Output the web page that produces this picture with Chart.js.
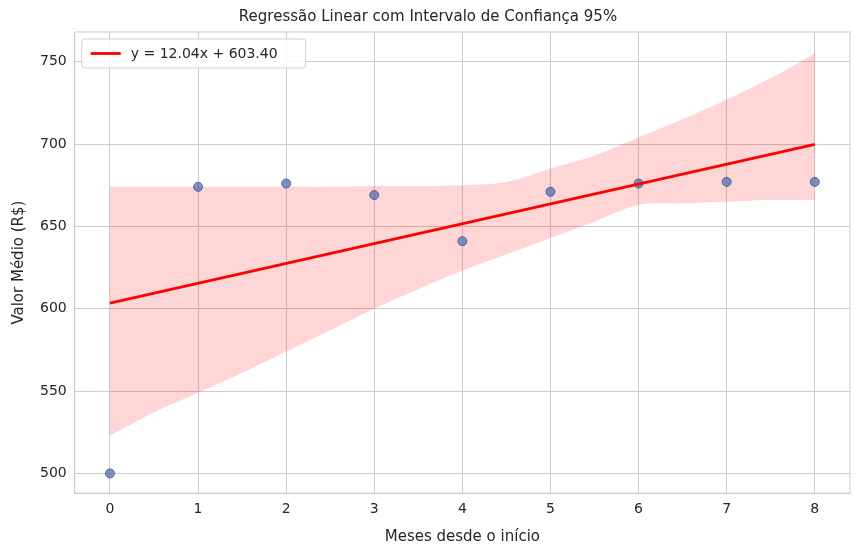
<!DOCTYPE html>
<html lang="pt">
<head>
<meta charset="UTF-8">
<title>Regressão Linear</title>
<script src="https://cdn.jsdelivr.net/npm/chart.js"></script>
<style>
  body { margin: 0; background: #fff; }
  #wrap { width: 860px; height: 556px; }
</style>
</head>
<body>
<div id="wrap"><canvas id="chart"></canvas></div>
<script>
// dados observados
var meses = [0, 1, 2, 3, 4, 5, 6, 7, 8];
var valores = [500, 674, 676, 669, 641, 671, 676, 677, 677];

// regressão
var slope = 12.04;
var intercept = 603.40;

// intervalo de confiança 95%
var ciX = [0, 0.5, 1, 1.5, 2, 2.5, 3, 3.5, 4, 4.5, 5, 5.5, 6, 6.5, 7, 7.5, 8];
var ciUpper = [674, 674, 674, 674, 674, 674, 674.5, 674.5, 675, 677, 685, 693, 704, 715, 727, 740, 755];
var ciLower = [523, 537, 549, 561, 574, 587, 600, 612, 623, 633, 643, 653, 663, 664, 665, 666, 666];

var xTicks = [0, 1, 2, 3, 4, 5, 6, 7, 8];
var yTicks = [500, 550, 600, 650, 700, 750];

var fontFam = "'DejaVu Sans', sans-serif";

function pts(xs, ys) {
    return xs.map(function (x, i) { return { x: x, y: ys[i] }; });
}

var legendBox = {
    id: 'legendBox',
    afterDraw: function (chart) {
        var ctx = chart.ctx, a = chart.chartArea;
        // moldura completa
        ctx.save();
        ctx.strokeStyle = '#cccccc';
        ctx.lineWidth = 1;
        ctx.strokeRect(a.left, a.top, a.right - a.left, a.bottom - a.top);
        var x = a.left + 7, y = a.top + 7, w = 224, h = 29;
        ctx.fillStyle = 'rgba(255,255,255,0.85)';
        ctx.strokeStyle = '#d0d0d0';
        ctx.beginPath();
        ctx.roundRect(x, y, w, h, 3);
        ctx.fill();
        ctx.stroke();
        ctx.strokeStyle = 'red';
        ctx.lineWidth = 2.8;
        ctx.beginPath();
        ctx.moveTo(x + 9, y + h / 2);
        ctx.lineTo(x + 39, y + h / 2);
        ctx.stroke();
        ctx.fillStyle = '#262626';
        ctx.font = '14px ' + fontFam;
        ctx.textBaseline = 'middle';
        ctx.fillText('y = ' + slope.toFixed(2) + 'x + ' + intercept.toFixed(2), x + 49, y + h / 2 + 1);
        ctx.restore();
    }
};

new Chart(document.getElementById('chart'), {
    type: 'scatter',
    data: {
        datasets: [
            {
                label: 'upper',
                type: 'line',
                data: pts(ciX, ciUpper),
                borderWidth: 0,
                pointRadius: 0,
                backgroundColor: 'rgba(255,0,0,0.16)',
                fill: '+1',
                tension: 0.3,
                order: 3
            },
            {
                label: 'lower',
                type: 'line',
                data: pts(ciX, ciLower),
                borderWidth: 0,
                pointRadius: 0,
                fill: false,
                tension: 0.3,
                order: 3
            },
            {
                label: 'dados',
                data: pts(meses, valores),
                backgroundColor: 'rgba(76,114,176,0.75)',
                borderColor: 'rgba(60,80,140,0.8)',
                borderWidth: 1,
                pointRadius: 4.5,
                order: 2
            },
            {
                label: 'fit',
                type: 'line',
                data: pts([0, 8], [intercept, intercept + slope * 8]),
                borderColor: 'red',
                borderWidth: 2.8,
                pointRadius: 0,
                fill: false,
                order: 1
            }
        ]
    },
    options: {
        responsive: true,
        maintainAspectRatio: false,
        animation: false,
        layout: { padding: { right: 10, top: 0, bottom: 6, left: 6 } },
        plugins: {
            legend: { display: false },
            tooltip: { enabled: false },
            title: {
                display: true,
                text: 'Regressão Linear com Intervalo de Confiança 95%',
                color: '#262626',
                font: { family: fontFam, size: 15, weight: 'normal' },
                padding: { top: 8, bottom: 6 }
            }
        },
        scales: {
            x: {
                type: 'linear',
                min: -0.4, max: 8.4,
                afterBuildTicks: function (s) { s.ticks = xTicks.map(function (v) { return { value: v }; }); },
                ticks: { color: '#262626', font: { family: fontFam, size: 14 }, padding: 8 },
                grid: { color: '#cccccc', drawTicks: false },
                border: { color: '#cccccc' },
                title: { display: true, text: 'Meses desde o início', color: '#262626',
                         font: { family: fontFam, size: 15 }, padding: { top: 2 } }
            },
            y: {
                min: 488, max: 768,
                afterBuildTicks: function (s) { s.ticks = yTicks.map(function (v) { return { value: v }; }); },
                ticks: { color: '#262626', font: { family: fontFam, size: 14 }, padding: 8 },
                grid: { color: '#cccccc', drawTicks: false },
                border: { color: '#cccccc' },
                title: { display: true, text: 'Valor Médio (R$)', color: '#262626',
                         font: { family: fontFam, size: 15 } }
            }
        }
    },
    plugins: [legendBox]
});
</script>
</body>
</html>
